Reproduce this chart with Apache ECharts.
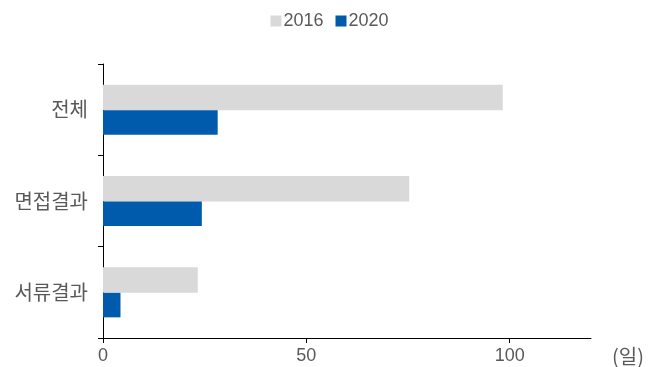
<!DOCTYPE html>
<html>
<head>
<meta charset="utf-8">
<script src="https://cdn.jsdelivr.net/npm/echarts@6/dist/echarts.min.js"></script>
<style>
  html, body { margin: 0; padding: 0; background: #fff; }
  #chart { width: 659px; height: 367px; }
</style>
</head>
<body>
<div id="chart"></div>
<script>
// Categories (bottom to top on the value axis layout)
const categories = ['서류결과', '면접결과', '전체'];
const seriesNames = ['2016', '2020'];
const values2016 = [23.3, 75.3, 98.3];
const values2020 = [4.3, 24.3, 28.2];
const xTicks = [0, 50, 100];

const FONT = '"Liberation Sans", "Noto Sans CJK KR", sans-serif';
const KFONT = '"Noto Sans CJK KR", sans-serif';
const TEXT = '#595959';

const chart = echarts.init(document.getElementById('chart'));
chart.setOption({
  animation: false,
  textStyle: { fontFamily: FONT },
  legend: {
    top: 7,
    left: 'center',
    itemWidth: 11,
    itemHeight: 11,
    itemGap: 12,
    icon: 'rect',
    textStyle: { fontSize: 18, color: TEXT, fontFamily: FONT, padding: [0, 0, 0, -3] },
    data: seriesNames
  },
  grid: { left: 103, right: 68, top: 64, bottom: 29, containLabel: false },
  xAxis: {
    type: 'value',
    min: 0,
    max: 120,
    interval: 50,
    name: '(일)',
    nameLocation: 'end',
    nameGap: 21,
    nameTextStyle: { fontSize: 20, color: TEXT, fontFamily: KFONT, verticalAlign: 'top', padding: [8, 0, 0, 0] },
    axisLine: { show: true, lineStyle: { color: '#000', width: 1 } },
    axisTick: { show: true, length: 5, lineStyle: { color: '#000' }, customValues: xTicks },
    axisLabel: { fontSize: 18, color: TEXT, margin: 9, customValues: xTicks },
    splitLine: { show: false }
  },
  yAxis: {
    type: 'category',
    data: categories,
    axisLine: { show: true, lineStyle: { color: '#000', width: 1 } },
    axisTick: { show: true, length: 5, lineStyle: { color: '#000' } },
    axisLabel: { fontSize: 20, color: TEXT, margin: 15, fontFamily: KFONT }
  },
  series: [
    {
      name: seriesNames[0], type: 'bar', data: values2016,
      itemStyle: { color: '#d9d9d9' },
      barWidth: 25.5, barGap: '0%'
    },
    {
      name: seriesNames[1], type: 'bar', data: values2020,
      itemStyle: { color: '#005bac' },
      barWidth: 24.5, barGap: '0%'
    }
  ]
});
</script>
</body>
</html>
